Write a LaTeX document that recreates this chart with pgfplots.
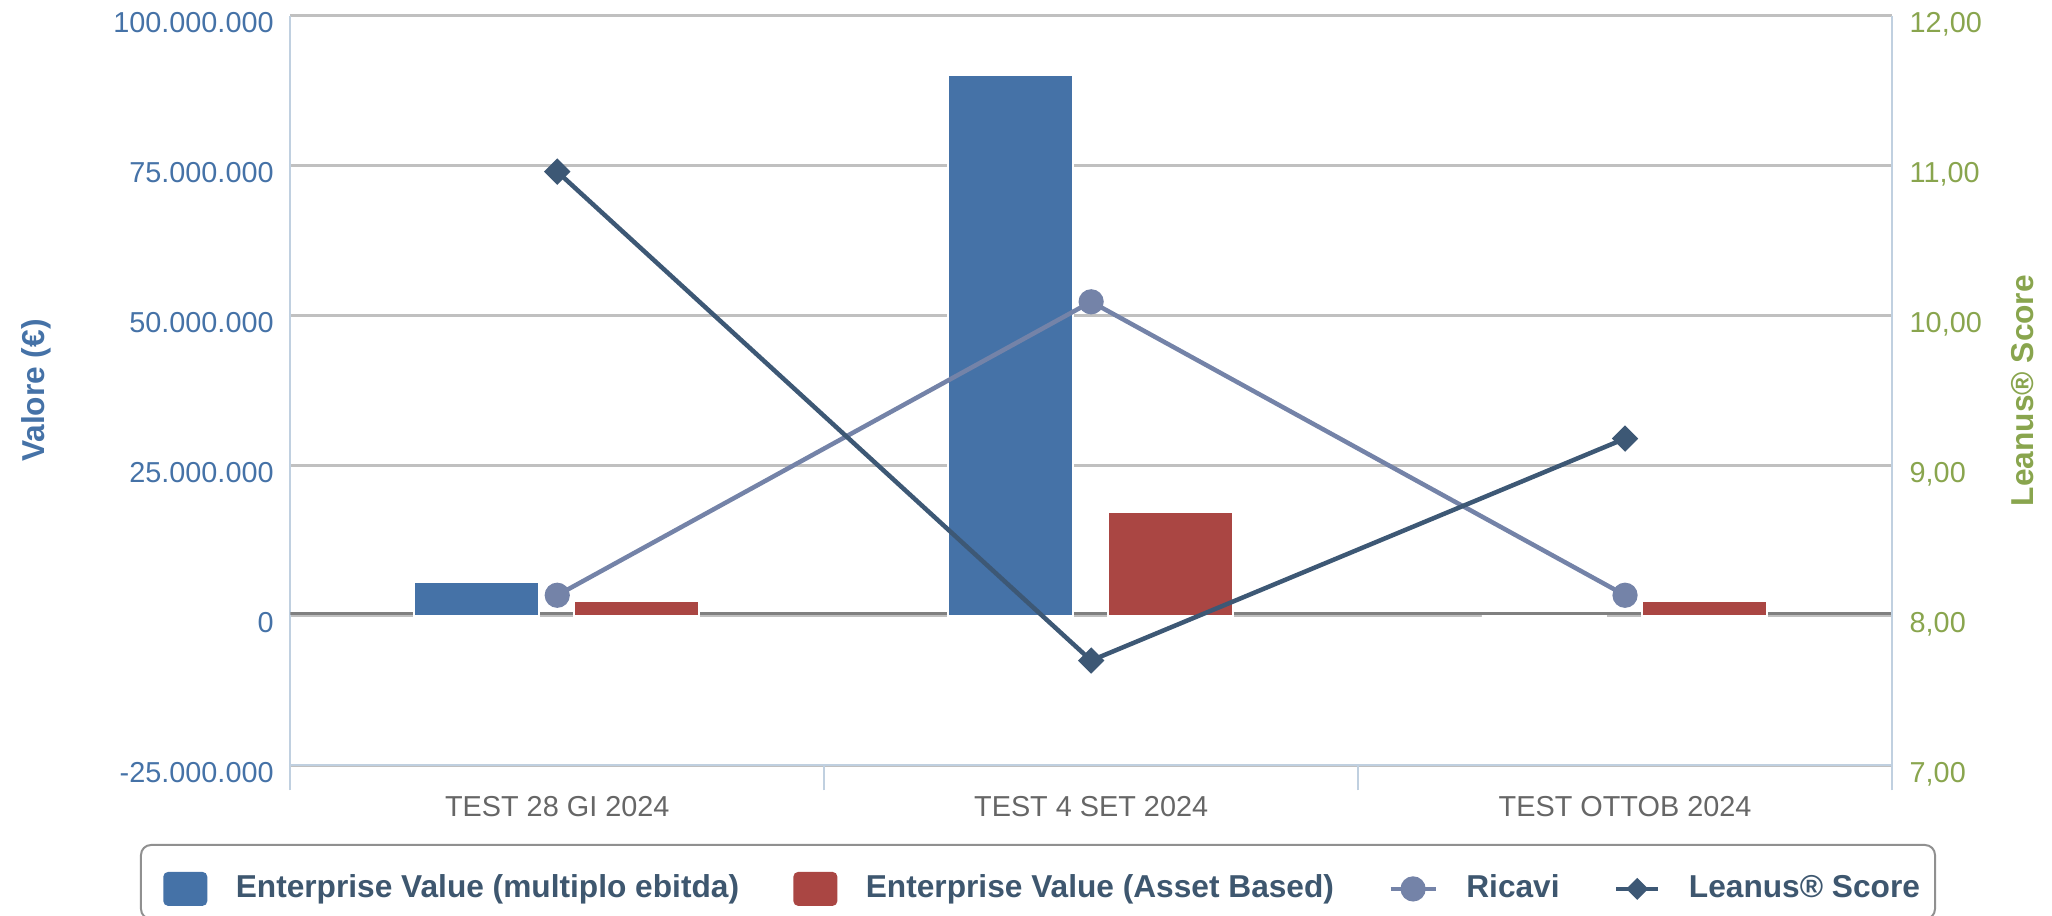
\documentclass[border=0pt]{standalone}
\usepackage{fontspec}
\setmainfont{Liberation Sans}
\usepackage{pgfplots}
\pgfplotsset{compat=1.18}
\definecolor{evblue}{HTML}{4572A7}
\definecolor{evred}{HTML}{AA4643}
\definecolor{ricavi}{HTML}{7483A8}
\definecolor{leanus}{HTML}{3D5875}
\definecolor{scoregreen}{HTML}{89A54E}
\definecolor{axisblue}{HTML}{C0D0E0}
\definecolor{gridgrey}{HTML}{C0C0C0}
\definecolor{zerogrey}{HTML}{808080}
\definecolor{legtext}{HTML}{3E576F}
\definecolor{ticktext}{HTML}{666666}
\definecolor{legborder}{HTML}{909090}
\newcommand{\tickfont}{\fontsize{8.65pt}{10pt}\selectfont}
\newcommand{\labfont}{\bfseries\fontsize{9.5pt}{11pt}\selectfont}
\newcommand{\legfont}{\bfseries\fontsize{9.5pt}{11pt}\selectfont}
\begin{document}
\begin{tikzpicture}
\useasboundingbox (-87.09pt,-45.15pt) rectangle (528.51pt,229.65pt);
\begin{axis}[
  at={(0pt,0pt)}, anchor=south west,
  scale only axis, width=480.51pt, height=224.94pt,
  xmin=-0.5, xmax=2.5, ymin=-25000000, ymax=100000000,
  axis x line*=bottom, axis y line*=left,
  axis line style={axisblue, line width=0.6pt},
  xtick={0,1,2},
  xticklabels={TEST 28 GI 2024,TEST 4 SET 2024,TEST OTTOB 2024},
  major tick length=0pt,
  tick style={axisblue, line width=0.6pt},
  extra x ticks={-0.5,0.5,1.5,2.5}, extra x tick labels={},
  extra x tick style={major tick length=7.5pt, tick align=outside},
  xticklabel style={font=\tickfont, text=ticktext, anchor=base, yshift=-15.36pt},
  ytick={-25000000,0,25000000,50000000,75000000,100000000},
  yticklabels={-25.000.000,0,25.000.000,50.000.000,75.000.000,100.000.000},
  scaled y ticks=false,
  yticklabel style={font=\tickfont, text=evblue, anchor=base east, inner sep=0pt, xshift=-4.8pt, yshift=-5pt},
  ymajorgrids, grid style={gridgrey, line width=0.75pt},
  ylabel={Valore (€)},
  every axis y label/.style={at={(axis description cs:-0.1588,0.5)}, rotate=90, anchor=center, font=\labfont, text=evblue},
  legend columns=4,
  legend cell align=left,
  legend style={draw=none, fill=none, inner sep=0pt, outer sep=0pt,
    at={(axis description cs:-0.07929,-0.1646)}, anchor=west,
    font=\legfont, text=legtext, nodes={inner sep=0pt, outer sep=0pt},
    column sep=8.55pt,
    /tikz/every even column/.append style={column sep=16.3pt}},
]
\draw[zerogrey, line width=0.7pt, yshift=0.6pt] (axis cs:-0.5,0) -- (axis cs:2.5,0);
\addplot[ybar, bar width=0.234, bar shift=-0.151, fill=evblue, draw=white, line width=0.6pt,
  legend image code/.code={\fill[evblue, rounded corners=1.2pt] (0pt,-4.8pt) rectangle (12.6pt,4.8pt);}]
  coordinates {(0,5600000) (1,90100000) (2,0)};
\addlegendentry{Enterprise Value (multiplo ebitda)}
\addplot[ybar, bar width=0.234, bar shift=0.149, fill=evred, draw=white, line width=0.6pt,
  legend image code/.code={\fill[evred, rounded corners=1.2pt] (0pt,-4.8pt) rectangle (12.6pt,4.8pt);}]
  coordinates {(0,2400000) (1,17200000) (2,2400000)};
\addlegendentry{Enterprise Value (Asset Based)}
\addplot[ricavi, line width=1.35pt, mark=*, mark size=3.1pt, mark options={draw=none, fill=ricavi},
  legend image code/.code={\draw[ricavi, line width=1.35pt] (0pt,0pt) -- (13.5pt,0pt); \fill[ricavi] (6.75pt,0pt) circle (3.1pt);}]
  coordinates {(0,3380000) (1,52300000) (2,3380000)};
\addlegendentry{Ricavi}
\addlegendimage{legend image code/.code={\draw[leanus, line width=1.35pt] (0pt,0pt) -- (12.6pt,0pt); \fill[leanus] (6.3pt,3pt) -- (9.3pt,0pt) -- (6.3pt,-3pt) -- (3.3pt,0pt) -- cycle;}}
\addlegendentry{Leanus® Score}
\end{axis}
\begin{axis}[
  at={(0pt,0pt)}, anchor=south west,
  scale only axis, width=480.51pt, height=224.94pt,
  xmin=-0.5, xmax=2.5, ymin=7, ymax=12,
  axis x line=none, axis y line*=right,
  axis line style={axisblue, line width=0.6pt},
  major tick length=0pt,
  ytick={7,8,9,10,11,12},
  yticklabels={{7,00},{8,00},{9,00},{10,00},{11,00},{12,00}},
  yticklabel style={font=\tickfont, text=scoregreen, anchor=base west, inner sep=0pt, xshift=5.1pt, yshift=-5pt},
  ylabel={Leanus® Score},
  every axis y label/.style={at={(axis description cs:1.0816,0.5)}, rotate=90, anchor=center, font=\labfont, text=scoregreen},
]
\addplot[leanus, line width=1.35pt, mark=square*, mark size=2.12pt, mark options={rotate=45, solid, draw=none, fill=leanus}]
  coordinates {(0,10.96) (1,7.70) (2,9.18)};
\end{axis}
\draw[legborder, line width=0.6pt, rounded corners=3pt] (-44.79pt,-23.85pt) rectangle (493.41pt,-46.05pt);
\end{tikzpicture}
\end{document}
